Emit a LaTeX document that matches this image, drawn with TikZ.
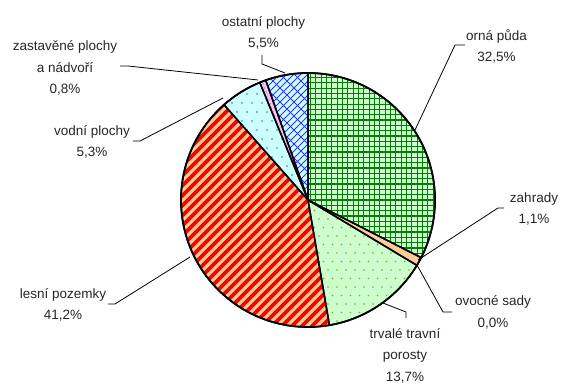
\documentclass[tikz,border=0pt]{standalone}
\usepackage{fontspec}
\setmainfont{Liberation Sans}
\definecolor{lgreen}{HTML}{CCFFCC}
\definecolor{dgreen}{HTML}{008000}
\definecolor{peach}{HTML}{FFCC99}
\definecolor{olivedot}{HTML}{999933}
\definecolor{lcyan}{HTML}{CCFFFF}
\definecolor{bluedot}{HTML}{3366FF}
\definecolor{brick}{HTML}{3333FF}
\definecolor{lpink}{HTML}{F4C4F4}
\definecolor{pinkdot}{HTML}{C060C0}
\newcommand\sliceclip[2]{\clip (C) -- ++(#1:\R) arc[start angle=#1,end angle=#2,radius=\R] -- cycle;}
\newcommand\sliceedge[2]{\draw[sliceline] (C) -- ++(#1:\R) arc[start angle=#1,end angle=#2,radius=\R] -- cycle;}
\begin{document}
\begin{tikzpicture}[x=1pt,y=1pt,
  lbl/.style={align=center, inner sep=0pt, font=\fontsize{13.5}{21.5}\selectfont, text=black!85},
  leader/.style={draw=black, line width=0.8pt},
  sliceline/.style={draw=black, line width=1.5pt, line join=round},
  gridline/.style={draw=dgreen, line width=1.1pt},
  stripe/.style={draw=red, line width=3.6pt},
  brickline/.style={draw=brick, line width=0.9pt}]
\useasboundingbox (0,0) rectangle (562,385);
\coordinate (C) at (308,185);
\def\R{127}
% orna puda
\begin{scope}
\sliceclip{90}{-27}
\fill[lgreen] (180,50) rectangle (440,320);
\foreach \i in {0,...,25} {\draw[gridline] ({310.5+\i*5.33},50) -- ++(0,270);}
\foreach \i in {-14,...,26} {\draw[gridline] (300,{185+\i*5.33}) -- ++(150,0);}
\end{scope}
% zahrady
\begin{scope}
\sliceclip{-27}{-30.96}
\fill[peach] (180,50) rectangle (440,320);
\fill[red] (418,143) circle (0.9);
\end{scope}
% trvale travni porosty
\begin{scope}
\sliceclip{-30.96}{-80.28}
\fill[lgreen] (180,50) rectangle (440,320);
\foreach \j in {0,...,15} {
  \pgfmathsetmacro\off{mod(\j,2)*4.5}
  \foreach \i in {0,...,14} {\fill[olivedot] ({310+\i*9+\off},{183-\j*8.5}) circle (0.9);}
}
\end{scope}
% lesni pozemky
\begin{scope}
\sliceclip{-80.28}{-228.6}
\fill[peach] (180,50) rectangle (440,320);
\foreach \k in {-26,...,17} {\draw[stripe] ({308+\k*10-160},{185-160}) -- ++(320,320);}
\end{scope}
% vodni plochy
\begin{scope}
\sliceclip{-228.6}{-247.68}
\fill[lcyan] (180,50) rectangle (440,320);
\foreach \j in {0,...,12} {
  \pgfmathsetmacro\off{mod(\j,2)*5}
  \foreach \i in {0,...,10} {\fill[bluedot] ({212+\i*10+\off},{210+\j*9}) circle (0.9);}
}
\end{scope}
% zastavene plochy
\begin{scope}
\sliceclip{-247.68}{-250.56}
\fill[lpink] (180,50) rectangle (440,320);
\foreach \j in {0,...,30} {\fill[pinkdot] ({262+0.35*\j*4},{305-\j*4}) circle (0.6);}
\end{scope}
% ostatni plochy
\begin{scope}
\sliceclip{-250.56}{-270}
\fill[lcyan] (180,50) rectangle (440,320);
\foreach \k in {-28,...,2} {\draw[brickline] ({308+\k*7},185) ++(-10,-10) -- ++(150,150);}
\foreach \k in {-28,...,1} {
  \pgfmathsetmacro\sh{mod(\k+40,2)*3.5}
  \foreach \j in {0,...,19} {\draw[brickline] ({308+\k*7+\j*7+\sh},{185+\j*7+\sh}) -- ++(3.5,-3.5);}
}
\end{scope}
% slice edges
\sliceedge{90}{-27}
\sliceedge{-27}{-30.96}
\sliceedge{-30.96}{-80.28}
\sliceedge{-80.28}{-228.6}
\sliceedge{-228.6}{-247.68}
\sliceedge{-247.68}{-250.56}
\sliceedge{-250.56}{-270}
\draw[line width=1.8pt] (C) circle (\R);
% labels
\node[lbl] (ost) at (263.5,352) {ostatní plochy\\5,5\%};
\node[lbl] (zas) at (65,317) {zastavěné plochy\\a nádvoří\\0,8\%};
\node[lbl] (vod) at (92,243) {vodní plochy\\5,3\%};
\node[lbl] (orn) at (496.5,338.5) {orná půda\\32,5\%};
\node[lbl] (zah) at (534,176) {zahrady\\1,1\%};
\node[lbl] (ovo) at (493,72.5) {ovocné sady\\0,0\%};
\node[lbl] (trv) at (405,29.5) {trvalé travní\\porosty\\13,7\%};
\node[lbl] (les) at (63,80) {lesní pozemky\\41,2\%};
% leader points
\coordinate (ost1) at (262,330); \coordinate (ost2) at (262,321); \coordinate (ost3) at (285,312);
\coordinate (zas1) at (120,319); \coordinate (zas2) at (128,319); \coordinate (zas3) at (258,305);
\coordinate (vod1) at (133,244); \coordinate (vod2) at (140,244); \coordinate (vod3) at (223,287);
\coordinate (orn1) at (465,340); \coordinate (orn2) at (455,340); \coordinate (orn3) at (415,255);
\coordinate (zah1) at (504,177); \coordinate (zah2) at (498,177); \coordinate (zah3) at (418,125);
\coordinate (ovo1) at (452,73); \coordinate (ovo2) at (443,73); \coordinate (ovo3) at (417,120);
\coordinate (trv1) at (406,67); \coordinate (trv2) at (406,73); \coordinate (trv3) at (383,82);
\coordinate (les1) at (108,81); \coordinate (les2) at (115,81); \coordinate (les3) at (190,128);
\draw[leader] (ost1) -- (ost2) -- (ost3);
\draw[leader] (zas1) -- (zas2) -- (zas3);
\draw[leader] (vod1) -- (vod2) -- (vod3);
\draw[leader] (orn1) -- (orn2) -- (orn3);
\draw[leader] (zah1) -- (zah2) -- (zah3);
\draw[leader] (ovo1) -- (ovo2) -- (ovo3);
\draw[leader] (trv1) -- (trv2) -- (trv3);
\draw[leader] (les1) -- (les2) -- (les3);
\end{tikzpicture}
\end{document}
